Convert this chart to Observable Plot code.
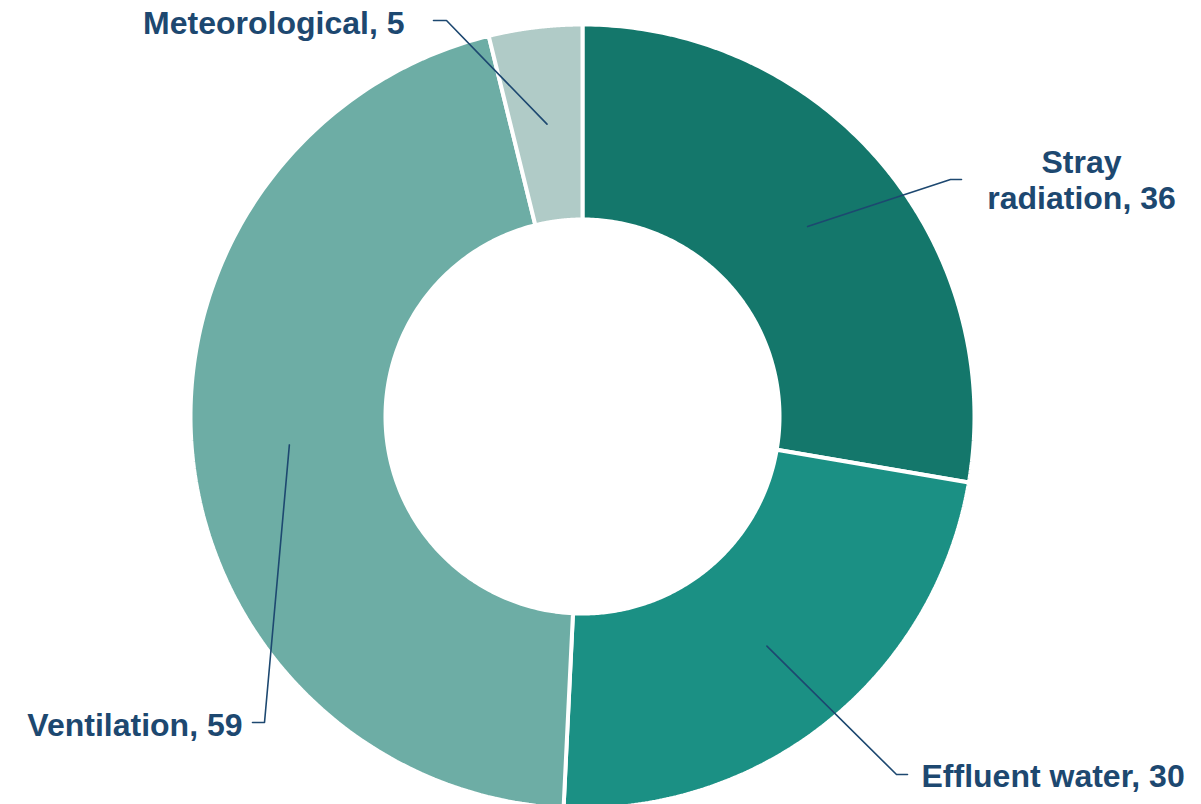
<!DOCTYPE html>
<html>
<head>
<meta charset="utf-8">
<script src="https://cdn.jsdelivr.net/npm/d3@7"></script>
<script src="https://cdn.jsdelivr.net/npm/@observablehq/plot@0.6"></script>
<style>
  html, body { margin: 0; padding: 0; background: #ffffff; }
  #chart { width: 1201px; height: 804px; }
</style>
</head>
<body>
<div id="chart"></div>
<script>
// ---- data ----
const categories = ["Stray radiation", "Effluent water", "Ventilation", "Meteorological"];
const values = [36, 30, 59, 5];
const labelTexts = ["Stray\nradiation, 36", "Effluent water, 30", "Ventilation, 59", "Meteorological, 5"];
const colors = ["#14776b", "#1b9084", "#6dada5", "#b0cbc7"];

// ---- layout (pixels) ----
const W = 1201, H = 804;
const center = {x: 582, y: 416};
const outerR = 392, innerR = 197;
const labelColor = "#1d4870";
// leader elbow, leader end, text anchor point (baseline of last line)
const labelLayout = [
  {elbow: [950, 179], end: [961, 179], text: [1081, 208], anchor: "middle"},
  {elbow: [896, 774], end: [907, 774], text: [921, 786], anchor: "start"},
  {elbow: [264, 722], end: [252, 722], text: [242, 735], anchor: "end"},
  {elbow: [446, 20], end: [433, 20], text: [404, 33], anchor: "end"}
];

// ---- build slices ----
const pie = d3.pie().sort(null).value(d => d.value)(
  categories.map((c, i) => ({name: c, value: values[i]}))
);
const pt = (r, a) => [center.x + r * Math.sin(a), center.y - r * Math.cos(a)];

const slicePoints = [];
pie.forEach((p) => {
  const n = 160;
  const pts = [];
  for (let k = 0; k <= n; k++) pts.push(pt(outerR, p.startAngle + (p.endAngle - p.startAngle) * k / n));
  for (let k = n; k >= 0; k--) pts.push(pt(innerR, p.startAngle + (p.endAngle - p.startAngle) * k / n));
  pts.push(pts[0]);
  pts.forEach(([x, y], j) => slicePoints.push({name: p.data.name, x, y, j}));
});

const leaderPoints = [];
const textRows = [];
pie.forEach((p, i) => {
  const mid = (p.startAngle + p.endAngle) / 2;
  const [sx, sy] = pt((outerR + innerR) / 2, mid);
  const L = labelLayout[i];
  leaderPoints.push({name: p.data.name, x: sx, y: sy});
  leaderPoints.push({name: p.data.name, x: L.elbow[0], y: L.elbow[1]});
  leaderPoints.push({name: p.data.name, x: L.end[0], y: L.end[1]});
  textRows.push({name: p.data.name, label: labelTexts[i], x: L.text[0], y: L.text[1], anchor: L.anchor});
});

const chart = Plot.plot({
  width: W,
  height: H,
  margin: 0,
  x: {domain: [0, W], range: [0, W], axis: null},
  y: {domain: [0, H], range: [0, H], axis: null},
  color: {domain: categories, range: colors},
  style: {background: "#ffffff"},
  marks: [
    Plot.line(slicePoints, {x: "x", y: "y", z: "name", fill: "name", stroke: "white", strokeWidth: 4, curve: "linear", strokeLinejoin: "miter"}),
    Plot.line(leaderPoints, {x: "x", y: "y", z: "name", stroke: labelColor, strokeWidth: 1.6, curve: "linear"}),
    ...["start", "middle", "end"].map(a =>
      Plot.text(textRows.filter(d => d.anchor === a), {
        x: "x", y: "y", text: "label", textAnchor: a, lineAnchor: "bottom",
        lineHeight: 1.125, fontSize: 32, fontWeight: "bold",
        fontFamily: "Liberation Sans, Arial, sans-serif", fill: labelColor
      })
    )
  ]
});
document.getElementById("chart").appendChild(chart);
</script>
</body>
</html>
